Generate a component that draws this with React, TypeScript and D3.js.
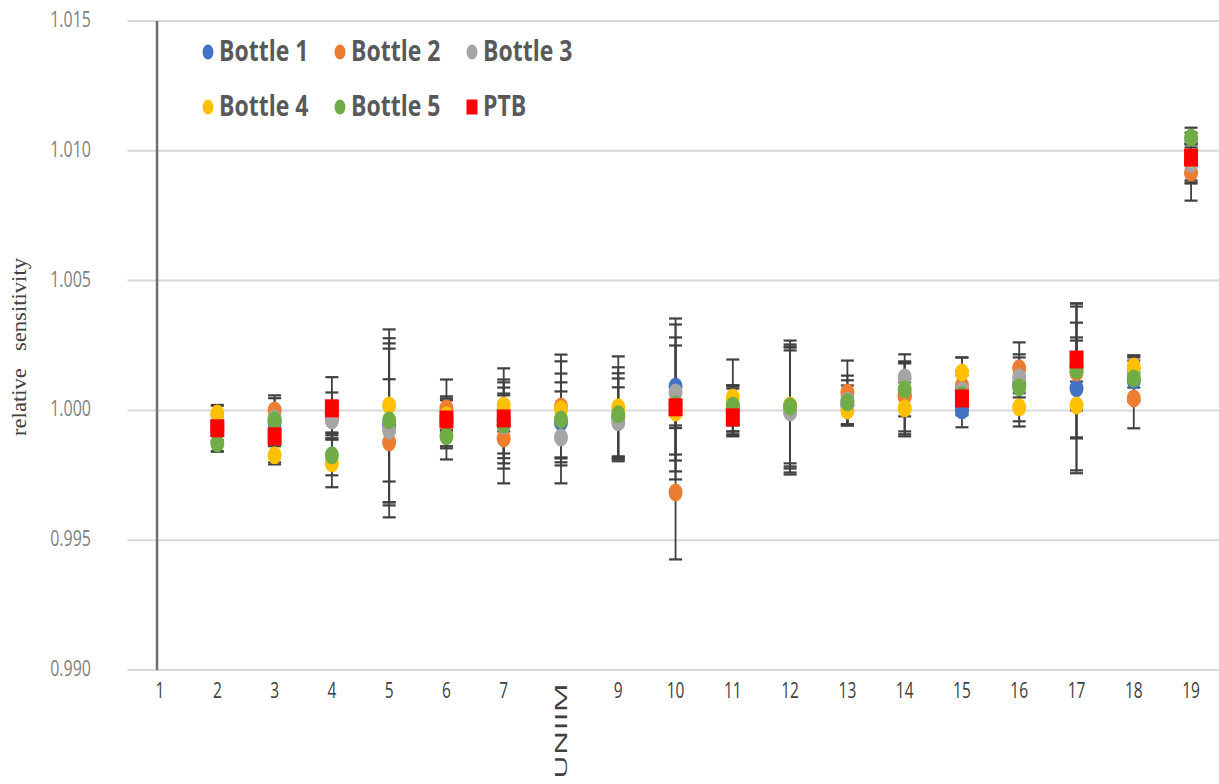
import React from "react";
import * as d3 from "d3";

const categories = ["1", "2", "3", "4", "5", "6", "7", "UNIIM", "9", "10", "11", "12", "13", "14", "15", "16", "17", "18", "19"];

const seriesNames = ["Bottle 1", "Bottle 2", "Bottle 3", "Bottle 4", "Bottle 5", "PTB"];
const seriesColors = ["#4472C4", "#ED7D31", "#A5A5A5", "#FFC000", "#70AD47", "#FF0000"];

const bottle1 = [null, 0.99942, 0.99954, 0.99992, 0.99942, 0.99969, 0.99962, 0.99954, 0.99977, 1.00092, 1.0, 1.00015, 1.00019, 1.00058, 1.0, 1.001, 1.00085, 1.00115, 1.00963];
const bottle1Err = [null, 0.0004, 0.0004, 0.00077, 0.00296, 0.00046, 0.00146, 0.00154, 0.00166, 0.00262, 0.00092, 0.00239, 0.00077, 0.00158, 0.00065, 0.00162, 0.00327, 0.00077, 0.00077];

const bottle2 = [null, 0.99931, 1.0, 0.99969, 0.99877, 1.00008, 0.99892, 1.00015, 0.99973, 0.99684, 1.00008, 1.00015, 1.00069, 1.00054, 1.00096, 1.00162, 1.00146, 1.00046, 1.00916];
const bottle2Err = [null, 0.00046, 0.00058, 0.00058, 0.00243, 0.00038, 0.00173, 0.002, 0.0015, 0.00258, 0.00089, 0.00231, 0.00123, 0.00135, 0.00108, 0.00054, 0.00254, 0.00115, 0.00108];

const bottle3 = [null, 0.99923, 0.99969, 0.99962, 0.99923, 0.99954, 0.99942, 0.99896, 0.99954, 1.00069, 0.99992, 0.99992, 1.00038, 1.00127, 1.00077, 1.00127, 1.00169, 1.00146, 1.00951];
const bottle3Err = [null, 0.0004, 0.0004, 0.00069, 0.00335, 0.001, 0.00146, 0.00177, 0.00135, 0.00262, 0.00092, 0.00239, 0.00096, 0.00054, 0.00077, 0.00077, 0.00169, 0.00058, 0.00077];

const bottle4 = [null, 0.99988, 0.99827, 0.99796, 1.00019, 0.99981, 1.00019, 1.00004, 1.00012, 0.99992, 1.0005, 1.00019, 1.0, 1.00008, 1.00146, 1.00012, 1.00019, 1.00169, 1.0097];
const bottle4Err = [null, 0.0003, 0.00035, 0.00092, 0.00293, 0.00058, 0.001, 0.00185, 0.00196, 0.00258, 0.00146, 0.00223, 0.00054, 0.001, 0.00058, 0.00054, 0.0025, 0.00042, 0.00058];

const bottle5 = [null, 0.99873, 0.99962, 0.99827, 0.99962, 0.999, 0.99946, 0.99965, 0.99985, 1.00023, 1.00019, 1.00015, 1.00031, 1.00081, 1.00058, 1.00089, 1.00154, 1.00123, 1.01051];
const bottle5Err = [null, 0.0003, 0.00085, 0.00077, 0.00316, 0.00038, 0.00112, 0.00177, 0.00181, 0.00258, 0.00077, 0.00254, 0.00085, 0.00104, 0.00077, 0.00077, 0.00258, 0.00089, 0.00038];

const ptb = [null, 0.99931, 0.999, 1.00008, null, 0.99965, 0.99969, null, null, 1.00012, 0.99973, null, null, null, 1.00046, null, 1.00196, null, 1.00974];
const ptbErr = [null, 0.0009, 0.001, 0.0012, null, 0.00154, 0.00193, null, null, 0.0008, 0.00054, null, null, null, 0.0004, null, 0.00085, null, 0.00096];

const yTicks = [0.99, 0.995, 1.0, 1.005, 1.01, 1.015];

const seriesValues = [bottle1, bottle2, bottle3, bottle4, bottle5, ptb];
const seriesErrors = [bottle1Err, bottle2Err, bottle3Err, bottle4Err, bottle5Err, ptbErr];

const W = 1219;
const H = 784;
const plotLeft = 131.4;
const plotRight = 1219.7;
const plotTop = 21;
const plotBottom = 670;

const x = d3.scaleBand<string>().domain(categories).range([plotLeft, plotRight]);
const y = d3.scaleLinear().domain([0.99, 1.015]).range([plotBottom, plotTop]);
const cx = (c: string) => (x(c) as number) + x.bandwidth() / 2;

const textFont = "'Open Sans', 'Liberation Sans', sans-serif";
const STRETCH = 1.35;

function Marker({ kind, px, py, color, rx, ry }: { kind: number; px: number; py: number; color: string; rx: number; ry: number }) {
  if (kind === 5) {
    return <rect x={px - rx} y={py - ry} width={rx * 2} height={ry * 2} fill={color} />;
  }
  return <ellipse cx={px} cy={py} rx={rx} ry={ry} fill={color} />;
}

export default function App() {
  const capHalf = 6.5;
  const legendRows = [
    [0, 1, 2],
    [3, 4, 5],
  ];
  const legendColX = [208, 340, 472];
  const legendRowY = [52, 107];

  return (
    <svg width={W} height={H} style={{ display: "block", position: "absolute", left: 0, top: 0, background: "#fff" }}>
      <rect x={0} y={0} width={W} height={H} fill="#fff" />
      {/* horizontal gridlines */}
      {yTicks.map((t) => (
        <line key={"g" + t} x1={plotLeft - 4} x2={W} y1={y(t)} y2={y(t)} stroke="#d9d9d9" strokeWidth={2} />
      ))}
      {/* y tick labels */}
      {yTicks.map((t) => (
        <text
          key={"yt" + t}
          transform={`translate(91,${y(t) + 6}) scale(1,${STRETCH})`}
          textAnchor="end"
          fontFamily={textFont}
          fontSize={16}
          fill="#7f7f7f"
        >
          {d3.format(".3f")(t)}
        </text>
      ))}
      {/* vertical axis line */}
      <line x1={cx("1") - 3} x2={cx("1") - 3} y1={plotTop} y2={plotBottom} stroke="#6f6f6f" strokeWidth={2.5} />
      {/* y axis title */}
      <text
        transform={`translate(26,347) rotate(-90)`}
        textAnchor="middle"
        fontFamily="'Liberation Serif', 'DejaVu Serif', serif"
        fontSize={20}
        fill="#404040"
        textLength={178}
        lengthAdjust="spacingAndGlyphs"
        style={{ whiteSpace: "pre" }}
      >
        {"relative   sensitivity"}
      </text>
      {/* x tick labels */}
      {categories.map((c) =>
        c === "UNIIM" ? (
          <text
            key={"xt" + c}
            transform={`translate(${cx(c) + 6},683) rotate(-90)`}
            textAnchor="end"
            fontFamily={textFont}
            fontSize={17}
            fill="#404040"
            textLength={96}
            lengthAdjust="spacingAndGlyphs"
          >
            {c}
          </text>
        ) : (
          <text
            key={"xt" + c}
            transform={`translate(${cx(c)},698) scale(1,${STRETCH})`}
            textAnchor="middle"
            fontFamily={textFont}
            fontSize={15.5}
            fill="#404040"
          >
            {c}
          </text>
        )
      )}
      {/* error bars */}
      {seriesValues.map((vals, si) =>
        vals.map((v, i) => {
          const e = seriesErrors[si][i];
          if (v == null || e == null) return null;
          const px = cx(categories[i]);
          const y1 = y(v + e);
          const y2 = y(v - e);
          return (
            <g key={`e${si}-${i}`} stroke="#404040">
              <line x1={px} x2={px} y1={y1} y2={y2} strokeWidth={1.8} />
              <line x1={px - capHalf} x2={px + capHalf} y1={y1} y2={y1} strokeWidth={2.2} />
              <line x1={px - capHalf} x2={px + capHalf} y1={y2} y2={y2} strokeWidth={2.2} />
            </g>
          );
        })
      )}
      {/* markers */}
      {seriesValues.map((vals, si) => (
        <g key={"m" + si}>
          {vals.map((v, i) =>
            v == null ? null : (
              <Marker key={i} kind={si} px={cx(categories[i])} py={y(v)} color={seriesColors[si]} rx={7} ry={9} />
            )
          )}
        </g>
      ))}
      {/* legend */}
      {legendRows.map((row, ri) =>
        row.map((si, ci) => (
          <g key={"lg" + si}>
            <Marker kind={si} px={legendColX[ci]} py={legendRowY[ri]} color={seriesColors[si]} rx={5.5} ry={7.5} />
            <text
              transform={`translate(${legendColX[ci] + 11},${legendRowY[ri] + 8.5}) scale(1,1.28)`}
              fontFamily={textFont}
              fontWeight={700}
              fontSize={23}
              fill="#595959"
            >
              {seriesNames[si]}
            </text>
          </g>
        ))
      )}
    </svg>
  );
}
